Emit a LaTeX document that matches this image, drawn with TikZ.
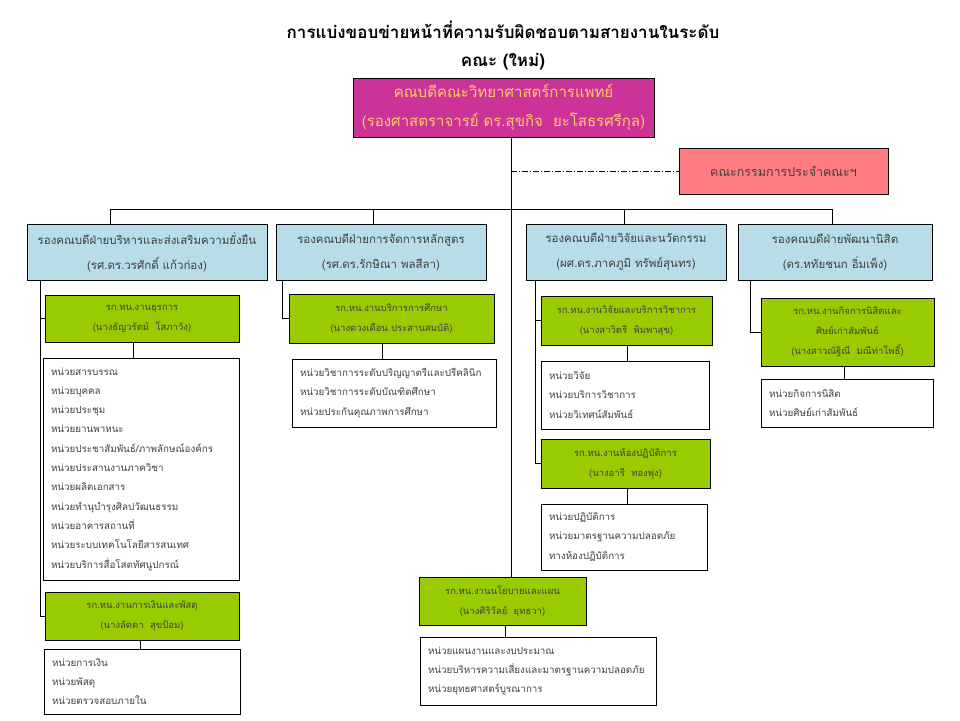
\documentclass[tikz,border=0pt]{standalone}
\usepackage{fontspec}
\setmainfont{Loma}[Script=Thai]
\definecolor{topfill}{HTML}{CC3399}
\definecolor{toptext}{HTML}{FFCC66}
\definecolor{commfill}{HTML}{FF7C80}
\definecolor{vpblue}{HTML}{B7DDE8}
\definecolor{grn}{HTML}{99CC00}
\definecolor{txtgray}{HTML}{404040}
\tikzset{
 vpbox/.style={draw, fill=vpblue, align=center, text=txtgray, font=\fontsize{11.5}{25}\selectfont, inner sep=0pt},
 grbox/.style={draw, fill=grn, align=center, text=txtgray, font=\fontsize{9.5}{20}\selectfont, inner sep=0pt},
 lsbox/.style={draw, fill=white, align=left, text=txtgray, font=\fontsize{9.8}{19.3}\selectfont, inner xsep=8pt, inner ysep=0pt},
 conn/.style={line width=0.9pt},
}
\begin{document}
\begin{tikzpicture}[x=1pt,y=-1pt]
\useasboundingbox (0,0) rectangle (960,720);
% title
\node[font=\fontsize{17}{28}\selectfont\bfseries, align=center] (title) at (503,46)
 {การแบ่งขอบข่ายหน้าที่ความรับผิดชอบตามสายงานในระดับ\\คณะ (ใหม่)};
% top box
\node[draw, fill=topfill, text=toptext, align=center, font=\fontsize{15}{29}\selectfont,
 minimum width=301pt, minimum height=59pt, inner sep=0pt] (top) at (503.5,107.5)
 {คณบดีคณะวิทยาศาสตร์การแพทย์\\(รองศาสตราจารย์ ดร.สุขกิจ~~ยะโสธรศรีกุล)};
\node[draw, fill=commfill, text=txtgray, font=\fontsize{12.5}{20}\selectfont,
 minimum width=209pt, minimum height=46pt, inner sep=0pt] (comm) at (783.5,171) {คณะกรรมการประจำคณะฯ};
% VP boxes
\node[vpbox, minimum width=240pt, minimum height=56pt] (vp1) at (147,252)
 {รองคณบดีฝ่ายบริหารและส่งเสริมความยั่งยืน\\(รศ.ดร.วรศักดิ์ แก้วก่อง)};
\node[vpbox, minimum width=210pt, minimum height=56pt] (vp2) at (381,252)
 {รองคณบดีฝ่ายการจัดการหลักสูตร\\(รศ.ดร.รักษิณา พลสีลา)};
\node[vpbox, minimum width=200pt, minimum height=56pt] (vp3) at (626,252)
 {รองคณบดีฝ่ายวิจัยและนวัตกรรม\\(ผศ.ดร.ภาคภูมิ ทรัพย์สุนทร)};
\node[vpbox, minimum width=194pt, minimum height=56pt] (vp4) at (835,252)
 {รองคณบดีฝ่ายพัฒนานิสิต\\(ดร.หทัยชนก อิ่มเพ็ง)};
% green boxes
\node[grbox, minimum width=194pt, minimum height=47pt] (g1) at (142,318.5)
 {รก.หน.งานธุรการ\\(นางธัญวรัตม์~~โสภาวัง)};
\node[grbox, minimum width=194pt, minimum height=48pt] (g2) at (142,616)
 {รก.หน.งานการเงินและพัสดุ\\(นางลัดดา~~สุขป้อม)};
\node[grbox, minimum width=205pt, minimum height=49pt] (g3) at (391.5,318.5)
 {รก.หน.งานบริการการศึกษา\\(นางดวงเดือน ประสานสมบัติ)};
\node[grbox, minimum width=171pt, minimum height=49pt] (g4) at (626.5,320.5)
 {รก.หน.งานวิจัยและบริการวิชาการ\\(นางสาวิตรี~~พิมพาสุข)};
\node[grbox, minimum width=169pt, minimum height=49pt] (g5) at (625.5,463.5)
 {รก.หน.งานห้องปฏิบัติการ\\(นางอารี~~ทองพุ่ง)};
\node[grbox, minimum width=173pt, minimum height=68pt] (g6) at (847.5,332)
 {รก.หน.งานกิจการนิสิตและ\\ศิษย์เก่าสัมพันธ์\\(นางสาวณัฐิณี~~มณีท่าโพธิ์)};
\node[grbox, minimum width=167pt, minimum height=48pt] (g7) at (502.5,601)
 {รก.หน.งานนโยบายและแผน\\(นางศิริวัลย์~~ยุทธวา)};
% list boxes
\node[lsbox, text width=180pt, minimum height=222pt] (w1) at (141,469)
 {หน่วยสารบรรณ\\หน่วยบุคคล\\หน่วยประชุม\\หน่วยยานพาหนะ\\หน่วยประชาสัมพันธ์/ภาพลักษณ์องค์กร\\หน่วยประสานงานภาควิชา\\หน่วยผลิตเอกสาร\\หน่วยทำนุบำรุงศิลปวัฒนธรรม\\หน่วยอาคารสถานที่\\หน่วยระบบเทคโนโลยีสารสนเทศ\\หน่วยบริการสื่อโสตทัศนูปกรณ์};
\node[lsbox, text width=180pt, minimum height=65pt] (w2) at (142,681.5)
 {หน่วยการเงิน\\หน่วยพัสดุ\\หน่วยตรวจสอบภายใน};
\node[lsbox, text width=188pt, minimum height=68pt] (w3) at (394,393)
 {หน่วยวิชาการระดับปริญญาตรีและปรีคลินิก\\หน่วยวิชาการระดับบัณฑิตศึกษา\\หน่วยประกันคุณภาพการศึกษา};
\node[lsbox, text width=152pt, minimum height=68pt] (w4) at (625,395)
 {หน่วยวิจัย\\หน่วยบริการวิชาการ\\หน่วยวิเทศน์สัมพันธ์};
\node[lsbox, text width=150pt, minimum height=66pt] (w5) at (624,537)
 {หน่วยปฏิบัติการ\\หน่วยมาตรฐานความปลอดภัย\\ทางห้องปฏิบัติการ};
\node[lsbox, text width=156pt, minimum height=48pt] (w6) at (847,403)
 {หน่วยกิจการนิสิต\\หน่วยศิษย์เก่าสัมพันธ์};
\node[lsbox, text width=220pt, minimum height=68pt] (w7) at (538,671)
 {หน่วยแผนงานและงบประมาณ\\หน่วยบริหารความเสี่ยงและมาตรฐานความปลอดภัย\\หน่วยยุทธศาสตร์บูรณาการ};
% coordinates
\coordinate (spine) at (511,0);
\coordinate (b1) at (110,209);
\coordinate (b2) at (373,209);
\coordinate (b3) at (624,209);
\coordinate (b4) at (832,209);
\coordinate (s1) at (40,0);
\coordinate (s2) at (282,0);
\coordinate (s3) at (535,0);
\coordinate (s4) at (750,0);
% connectors
\draw[conn] (top.south -| spine) -- (g7.north -| spine);
\draw[conn, dash pattern=on 6pt off 2pt on 1pt off 2pt] (spine |- comm.west) -- (comm.west);
\draw[conn] (b1) -- (b4);
\draw[conn] (b1) -- (b1 |- vp1.north);
\draw[conn] (b2) -- (b2 |- vp2.north);
\draw[conn] (b3) -- (b3 |- vp3.north);
\draw[conn] (b4) -- (b4 |- vp4.north);
\draw[conn] (vp1.south -| s1) -- (g2.west -| s1) -- (g2.west);
\draw[conn] (g1.west -| s1) -- (g1.west);
\draw[conn] (vp2.south -| s2) |- (g3.west);
\draw[conn] (vp3.south -| s3) -- (g5.west -| s3) -- (g5.west);
\draw[conn] (g4.west -| s3) -- (g4.west);
\draw[conn] (vp4.south -| s4) |- (g6.west);
\draw[conn] (w1.north -| 133,0) -- (g1.south -| 133,0);
\draw[conn] (w2.north -| 140,0) -- (g2.south -| 140,0);
\draw[conn] (w3.north -| 382,0) -- (g3.south -| 382,0);
\draw[conn] (w4.north -| 627,0) -- (g4.south -| 627,0);
\draw[conn] (w5.north -| 627,0) -- (g5.south -| 627,0);
\draw[conn] (w6.north -| 844,0) -- (g6.south -| 844,0);
\draw[conn] (w7.north -| 505,0) -- (g7.south -| 505,0);
\end{tikzpicture}
\end{document}
